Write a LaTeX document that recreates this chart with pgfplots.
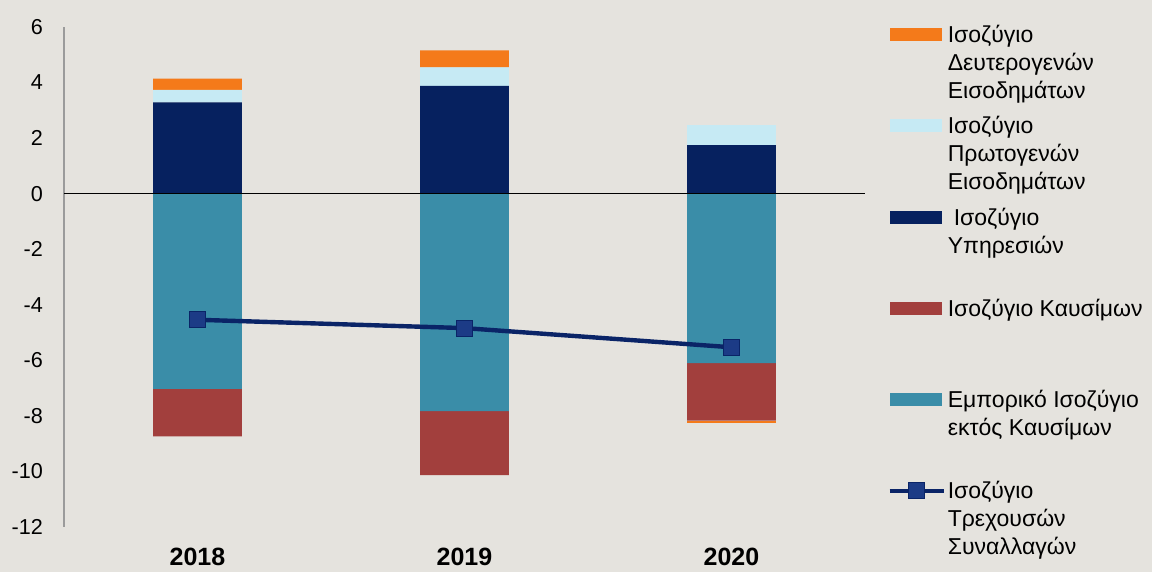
\documentclass[border=0pt]{standalone}
\usepackage{fontspec}
\setmainfont{Liberation Sans}
\usepackage{pgfplots}
\pgfplotsset{compat=1.18}

\definecolor{bgc}{HTML}{E5E3DE}
\definecolor{cOrange}{HTML}{F47A1A}
\definecolor{cLight}{HTML}{C6EAF4}
\definecolor{cNavy}{HTML}{06215F}
\definecolor{cRed}{HTML}{A23F3D}
\definecolor{cTeal}{HTML}{3A8DA8}
\definecolor{cLine}{HTML}{0A2467}
\definecolor{cMark}{HTML}{1C3B86}
\definecolor{cAxis}{HTML}{9B9B9B}

\pgfplotsset{
  swatch legend/.style={legend image code/.code={\fill[##1] (0pt,0.8pt) rectangle (26pt,7.3pt);}},
  mline legend/.style={legend image code/.code={\draw[mark repeat=2,mark phase=2,##1] plot coordinates {(0pt,4pt)(13.5pt,4pt)(27pt,4pt)};}},
  common/.style={width=400.5pt, height=250pt, scale only axis,
    xmin=-0.5, xmax=2.5, ymin=-12, ymax=6,
    at={(32pt,22.5pt)}, anchor=south west},
  curline/.style={color=cLine, line width=2.2pt, mark=square*, mark size=4pt,
    mark options={fill=cMark, draw=cLine, line width=0.6pt}},
}
\newcommand\lgd[1]{\parbox[t][40pt][t]{110pt}{\raggedright #1}}

\begin{document}
\begin{tikzpicture}
\fill[bgc] (0,0) rectangle (576pt,286pt);
\useasboundingbox (0,0) rectangle (576pt,286pt);

% positive components
\begin{axis}[common, hide axis, ybar stacked, bar width=0.333]
\addplot[fill=cNavy, draw=none] coordinates {(0,3.29) (1,3.88) (2,1.75)};
\addplot[fill=cLight, draw=none] coordinates {(0,0.45) (1,0.67) (2,0.72)};
\addplot[fill=cOrange, draw=none] coordinates {(0,0.40) (1,0.61) (2,0)};
\end{axis}

% negative components and axes
\begin{axis}[
    common,
    axis on top,
    separate axis lines,
    axis x line=bottom, axis y line=left,
    x axis line style={draw=none},
    y axis line style={draw=cAxis, line width=0.75pt, -},
    major tick length=0pt,
    ybar stacked, bar width=0.333,
    xtick={0,1,2}, xticklabels={2018,2019,2020},
    xticklabel style={font=\fontsize{12.5}{14}\selectfont\bfseries, yshift=-7pt},
    ytick={-12,-10,-8,-6,-4,-2,0,2,4,6},
    yticklabels={-12,-10,-8,-6,-4,-2,0,2,4,6},
    yticklabel style={font=\fontsize{10.8}{13}\selectfont, xshift=-7pt},
    extra y ticks={0}, extra y tick labels={},
    extra y tick style={grid=major, major grid style={black, line width=0.8pt}},
]
\addplot[fill=cTeal, draw=none] coordinates {(0,-7.03) (1,-7.83) (2,-6.10)};
\addplot[fill=cRed, draw=none] coordinates {(0,-1.71) (1,-2.30) (2,-2.07)};
\addplot[fill=cOrange, draw=none] coordinates {(0,0) (1,0) (2,-0.10)};
\end{axis}

% current account line and legend
\begin{axis}[common, hide axis,
    swatch legend,
    legend style={at={(rel axis cs:1.02,1.016)}, anchor=north west,
      draw=none, fill=none, row sep=3.6pt, column sep=0pt,
      cells={anchor=base west}, nodes={inner sep=1pt, text depth=},
      font=\fontsize{11.5}{14}\selectfont},
]
\addlegendimage{fill=cOrange, draw=none}
\addlegendentry{\lgd{Ισοζύγιο\\Δευτερογενών\\Εισοδημάτων}}
\addlegendimage{fill=cLight, draw=none}
\addlegendentry{\lgd{Ισοζύγιο\\Πρωτογενών\\Εισοδημάτων}}
\addlegendimage{fill=cNavy, draw=none}
\addlegendentry{\lgd{\hspace{3pt}Ισοζύγιο\\Υπηρεσιών}}
\addlegendimage{fill=cRed, draw=none}
\addlegendentry{\lgd{Ισοζύγιο Καυσίμων}}
\addlegendimage{fill=cTeal, draw=none}
\addlegendentry{\lgd{Εμπορικό Ισοζύγιο\\εκτός Καυσίμων}}
\addlegendimage{mline legend, curline}
\addlegendentry{\lgd{Ισοζύγιο\\Τρεχουσών\\Συναλλαγών}}

\addplot[curline] coordinates {(0,-4.54) (1,-4.84) (2,-5.53)};
\end{axis}
\end{tikzpicture}
\end{document}
